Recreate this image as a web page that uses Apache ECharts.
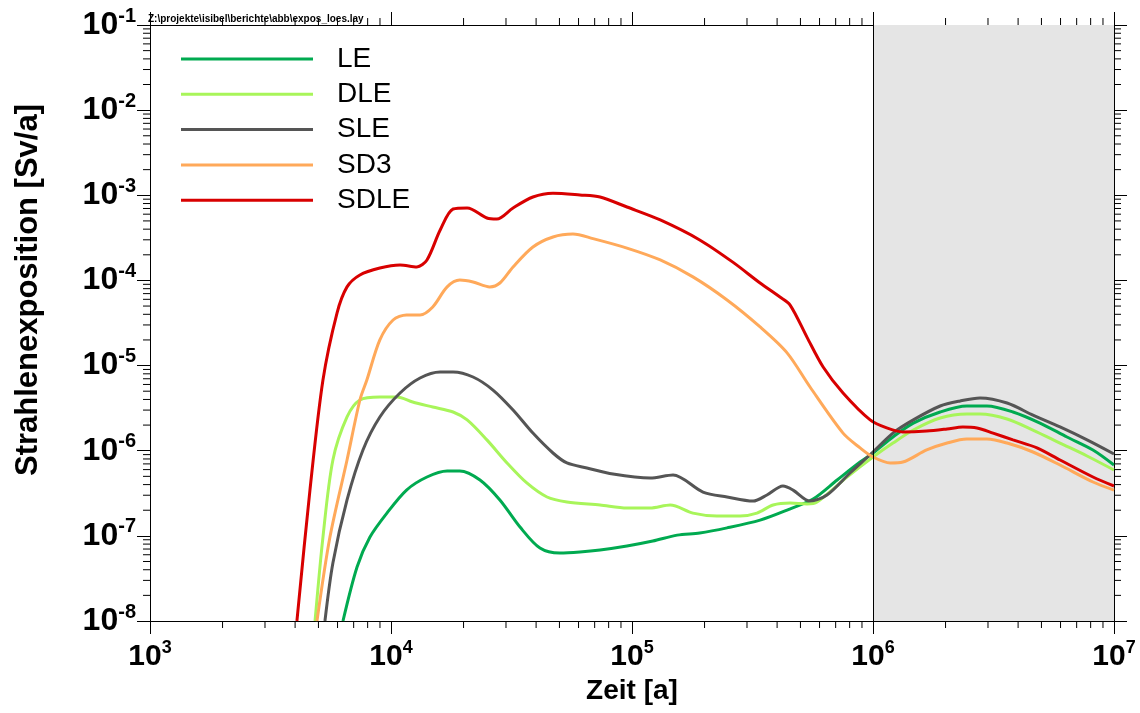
<!DOCTYPE html>
<html>
<head>
<meta charset="utf-8">
<script src="https://cdn.jsdelivr.net/npm/echarts@6/dist/echarts.min.js"></script>
<style>
html,body{margin:0;padding:0;background:#fff;}
#chart{width:1140px;height:713px;}
</style>
</head>
<body>
<div id="chart"></div>
<script>
// Data: [time in years, exposure in Sv/a]
const LE = [[6320,1e-8],[7230,4.31e-8],[8180,9.68e-8],[9620,1.85e-7],[11600,3.45e-7],[14100,4.91e-7],[17100,5.78e-7],[19300,5.78e-7],[23400,4.53e-7],[28300,2.64e-7],[34300,1.27e-7],[41500,7.19e-8],[50200,6.28e-8],[60800,6.46e-8],[73700,6.82e-8],[95300,7.60e-8],[122000,8.69e-8],[154000,1.02e-7],[191000,1.08e-7],[248000,1.24e-7],[340000,1.53e-7],[440000,2.01e-7],[564000,2.71e-7],[710000,4.53e-7],[884000,7.36e-7],[1000000,9.40e-7],[1210000,1.45e-6],[1470000,2.11e-6],[1900000,2.85e-6],[2450000,3.35e-6],[2970000,3.35e-6],[3810000,2.85e-6],[4930000,2.11e-6],[6380000,1.45e-6],[8180000,1.02e-6],[10000000,6.79e-7]];
const DLE = [[4840,1e-8],[5220,9.68e-8],[5740,7.78e-7],[6570,2.49e-6],[7430,3.94e-6],[8990,4.28e-6],[10600,4.28e-6],[12300,3.73e-6],[14900,3.26e-6],[18100,2.85e-6],[20700,2.30e-6],[25000,1.34e-6],[30300,7.18e-7],[36600,4.18e-7],[44400,2.86e-7],[53700,2.50e-7],[73700,2.30e-7],[95300,2.12e-7],[119000,2.12e-7],[144000,2.30e-7],[179000,1.85e-7],[225000,1.71e-7],[281000,1.71e-7],[330000,1.85e-7],[385000,2.30e-7],[453000,2.43e-7],[532000,2.37e-7],[586000,2.50e-7],[780000,4.91e-7],[1000000,8.43e-7],[1210000,1.23e-6],[1470000,1.75e-6],[1900000,2.42e-6],[2450000,2.70e-6],[2780000,2.70e-6],[3600000,2.36e-6],[4610000,1.75e-6],[5970000,1.23e-6],[7730000,8.67e-7],[10000000,5.93e-7]];
const SLE = [[5320,1e-8],[5740,4.80e-8],[6570,2.64e-7],[7650,1.02e-6],[8990,2.49e-6],[10900,4.76e-6],[13200,7.14e-6],[16000,8.40e-6],[18100,8.40e-6],[21900,7.34e-6],[26500,5.16e-6],[32100,3.01e-6],[38800,1.61e-6],[47000,9.40e-7],[53700,7.18e-7],[65000,6.27e-7],[83400,5.32e-7],[119000,4.78e-7],[148000,5.19e-7],[197000,3.27e-7],[248000,2.86e-7],[318000,2.56e-7],[363000,3.02e-7],[423000,3.85e-7],[466000,3.45e-7],[548000,2.56e-7],[644000,3.02e-7],[803000,5.47e-7],[1000000,9.66e-7],[1210000,1.61e-6],[1470000,2.30e-6],[1900000,3.35e-6],[2300000,3.84e-6],[2780000,4.16e-6],[3600000,3.63e-6],[4610000,2.62e-6],[5970000,1.90e-6],[7730000,1.34e-6],[10000000,9.14e-7]];
const SD3 = [[4930,1e-8],[5580,9.68e-8],[6570,7.78e-7],[7430,3.94e-6],[7940,6.76e-6],[8990,2.0e-5],[10200,3.43e-5],[11600,3.93e-5],[13200,3.93e-5],[14900,4.88e-5],[17100,8.4e-5],[19300,1.01e-4],[21900,9.58e-5],[25700,8.4e-5],[28300,9.33e-5],[32100,1.44e-4],[38800,2.47e-4],[47000,3.24e-4],[56900,3.51e-4],[68900,3.1e-4],[95300,2.40e-4],[131000,1.74e-4],[179000,1.10e-4],[248000,5.89e-5],[340000,2.84e-5],[440000,1.41e-5],[548000,5.60e-6],[751000,1.61e-6],[884000,1.08e-6],[1000000,8.43e-7],[1180000,7.18e-7],[1330000,7.36e-7],[1670000,1.02e-6],[2030000,1.23e-6],[2450000,1.37e-6],[2970000,1.37e-6],[3600000,1.23e-6],[4610000,9.66e-7],[5970000,6.79e-7],[8180000,4.29e-7],[10000000,3.45e-7]];
const SDLE = [[4070,1e-8],[4610,3.45e-7],[5220,6.76e-6],[5970,4.14e-5],[6570,8.4e-5],[7430,1.16e-4],[8990,1.40e-4],[10900,1.52e-4],[12800,1.44e-4],[14100,1.74e-4],[16000,3.91e-4],[18100,6.90e-4],[20700,7.10e-4],[25000,5.41e-4],[27500,5.26e-4],[32100,7.10e-4],[38800,9.55e-4],[47000,1.06e-3],[60800,1.01e-3],[73700,9.55e-4],[95300,7.28e-4],[131000,5.13e-4],[191000,2.99e-4],[262000,1.64e-4],[340000,9.33e-5],[411000,6.38e-5],[453000,5.14e-5],[532000,2.16e-5],[621000,9.62e-6],[751000,4.76e-6],[973000,2.30e-6],[1140000,1.85e-6],[1330000,1.66e-6],[1670000,1.70e-6],[2030000,1.80e-6],[2360000,1.90e-6],[2700000,1.85e-6],[3150000,1.61e-6],[3810000,1.34e-6],[4790000,1.08e-6],[5970000,7.78e-7],[8180000,4.91e-7],[10000000,3.85e-7]];

const seriesNames = ['LE','DLE','SLE','SD3','SDLE'];
const seriesColors = ['#00aa50','#a8f55a','#555555','#ffa95a','#d80000'];
const seriesData = [LE, DLE, SLE, SD3, SDLE];

const xRange = [1e3, 1e7];
const yRange = [1e-8, 1e-1];
const shadedRange = [1e6, 1e7];
const xTitle = 'Zeit [a]';
const yTitle = 'Strahlenexposition [Sv/a]';
const fileNote = 'Z:\\projekte\\isibel\\berichte\\abb\\expos_loes.lay';

// minor tick positions (2..9 per decade)
const minorMults = [2,3,4,5,6,7,8,9];
const xMinorTicks = [];
[1e3,1e4,1e5,1e6].forEach(d => minorMults.forEach(m => xMinorTicks.push(m*d)));
const yMinorTicks = [];
[1e-8,1e-7,1e-6,1e-5,1e-4,1e-3,1e-2].forEach(d => minorMults.forEach(m => yMinorTicks.push(m*d)));

const FF = '"Liberation Sans", Arial, sans-serif';
const chart = echarts.init(document.getElementById('chart'), null, {renderer:'canvas'});

const xLabelRich = {
  b: {fontSize: 30, fontWeight: 'bold', fontFamily: FF, color: '#000', lineHeight: 36},
  s: {fontSize: 18, fontWeight: 'bold', fontFamily: FF, color: '#000', verticalAlign: 'top'}
};
const yLabelRich = {
  b: {fontSize: 32, fontWeight: 'bold', fontFamily: FF, color: '#000', lineHeight: 38},
  s: {fontSize: 20, fontWeight: 'bold', fontFamily: FF, color: '#000', verticalAlign: 'top'}
};
const powFmt = v => '{b|10}{s|' + Math.round(Math.log10(v)) + '}';

const axisCommon = {
  axisLine: {show: true, onZero: false, lineStyle: {color: '#000', width: 1}},
  axisTick: {show: true, inside: false, length: 13, lineStyle: {color: '#000', width: 1}},
  splitLine: {show: false},
  minorTick: {show: false},
};

const lineSeries = seriesNames.map((name, i) => ({
  name: name,
  type: 'line',
  data: seriesData[i],
  xAxisIndex: 0, yAxisIndex: 0,
  color: seriesColors[i],
  showSymbol: false,
  smooth: 0.3,
  clip: true,
  z: 3,
  lineStyle: {width: 3, color: seriesColors[i]}
}));

const option = {
  animation: false,
  backgroundColor: '#fff',
  grid: {left: 150, right: 26, top: 25, bottom: 92, containLabel: false},
  legend: {
    orient: 'vertical', left: 176, top: 39,
    itemWidth: 132, itemHeight: 3, itemGap: 5.3, icon: 'rect',
    data: seriesNames,
    textStyle: {fontSize: 28, fontFamily: FF, color: '#000', padding: [0,0,0,19], lineHeight: 30}
  },
  graphic: [
    {type: 'text', x: 148, y: 19, silent: true,
     style: {text: fileNote, font: 'bold 10px ' + FF, fill: '#000', textVerticalAlign: 'middle'}},
    {type: 'text', x: 28, y: 290, rotation: Math.PI / 2, silent: true,
     style: {text: yTitle, font: 'bold 31px ' + FF, fill: '#000', textAlign: 'center', textVerticalAlign: 'middle'}}
  ],
  xAxis: [
    Object.assign({}, axisCommon, {
      type: 'log', logBase: 10, min: xRange[0], max: xRange[1], splitNumber: 4, position: 'bottom',
      name: xTitle, nameLocation: 'middle', nameGap: 49,
      nameTextStyle: {fontSize: 28, fontWeight: 'bold', fontFamily: FF, color: '#000'},
      axisLabel: {show: true, margin: 18, formatter: powFmt, rich: xLabelRich}
    }),
    Object.assign({}, axisCommon, {
      type: 'log', logBase: 10, min: xRange[0], max: xRange[1], splitNumber: 4, position: 'top',
      axisLabel: {show: false}
    })
  ],
  yAxis: [
    Object.assign({}, axisCommon, {
      type: 'log', logBase: 10, min: yRange[0], max: yRange[1], splitNumber: 7, position: 'left',
      axisLabel: {show: true, margin: 14, formatter: powFmt, rich: yLabelRich}
    }),
    Object.assign({}, axisCommon, {
      type: 'log', logBase: 10, min: yRange[0], max: yRange[1], splitNumber: 7, position: 'right',
      axisLabel: {show: false}
    })
  ],
  series: [
    {
      name: 'shade', type: 'line', data: [], xAxisIndex: 0, yAxisIndex: 0, z: 1,
      markArea: {silent: true, itemStyle: {color: '#e5e5e5'}, data: [[{xAxis: shadedRange[0]}, {xAxis: shadedRange[1]}]]},
      markLine: {silent: true, symbol: 'none', label: {show: false},
        lineStyle: {color: '#000', width: 1, type: 'solid'}, data: [{xAxis: shadedRange[0]}]}
    },
    ...lineSeries,
    {
      name: 'xMinor', type: 'custom', silent: true, clip: false, z: 5,
      xAxisIndex: 0, yAxisIndex: 0,
      data: xMinorTicks.map(v => [v, yRange[0]]),
      encode: {x: 0, y: 1},
      renderItem: function (params, api) {
        const v = api.value(0);
        const pb = api.coord([v, yRange[0]]);
        const pt = api.coord([v, yRange[1]]);
        const st = {stroke: '#000', lineWidth: 1};
        return {type: 'group', children: [
          {type: 'line', shape: {x1: pb[0], y1: pb[1], x2: pb[0], y2: pb[1] + 7}, style: st},
          {type: 'line', shape: {x1: pt[0], y1: pt[1], x2: pt[0], y2: pt[1] - 7}, style: st}
        ]};
      }
    },
    {
      name: 'yMinor', type: 'custom', silent: true, clip: false, z: 5,
      xAxisIndex: 0, yAxisIndex: 0,
      data: yMinorTicks.map(v => [xRange[0], v]),
      encode: {x: 0, y: 1},
      renderItem: function (params, api) {
        const v = api.value(1);
        const pl = api.coord([xRange[0], v]);
        const pr = api.coord([xRange[1], v]);
        const st = {stroke: '#000', lineWidth: 1};
        return {type: 'group', children: [
          {type: 'line', shape: {x1: pl[0], y1: pl[1], x2: pl[0] - 7, y2: pl[1]}, style: st},
          {type: 'line', shape: {x1: pr[0], y1: pr[1], x2: pr[0] + 7, y2: pr[1]}, style: st}
        ]};
      }
    }
  ]
};
chart.setOption(option);
</script>
</body>
</html>
